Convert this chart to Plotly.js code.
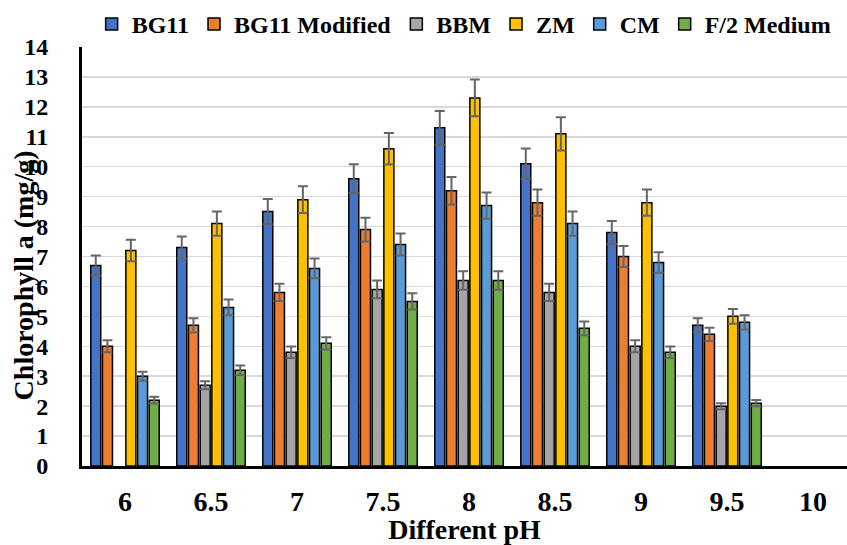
<!DOCTYPE html>
<html>
<head>
<meta charset="utf-8">
<script src="https://cdn.plot.ly/plotly-3.0.1.min.js"></script>
<style>html,body{margin:0;padding:0;background:#fff;}#chart{width:847px;height:545px;}</style>
</head>
<body>
<div id="chart"></div>
<script>
const categories = ["6", "6.5", "7", "7.5", "8", "8.5", "9", "9.5", "10"];
const seriesNames = ["BG11", "BG11 Modified", "BBM", "ZM", "CM", "F/2 Medium"];
const bg11 = [6.7, 7.3, 8.5, 9.6, 11.3, 10.1, 7.8, 4.7, null];
const bg11Modified = [4.0, 4.7, 5.8, 7.9, 9.2, 8.8, 7.0, 4.4, null];
const bbm = [null, 2.7, 3.8, 5.9, 6.2, 5.8, 4.0, 2.0, null];
const zm = [7.2, 8.1, 8.9, 10.6, 12.3, 11.1, 8.8, 5.0, null];
const cm = [3.0, 5.3, 6.6, 7.4, 8.7, 8.1, 6.8, 4.8, null];
const f2Medium = [2.2, 3.2, 4.1, 5.5, 6.2, 4.6, 3.8, 2.1, null];
const errorPercent = 5;
const yTicks = [0,1,2,3,4,5,6,7,8,9,10,11,12,13,14];
const xTitle = "Different pH";
const yTitle = "Chlorophyll a (mg/g)";
const colors = ["#4472C4", "#ED7D31", "#A5A5A5", "#FFC000", "#5B9BD5", "#70AD47"];

const allSeries = [bg11, bg11Modified, bbm, zm, cm, f2Medium];
const font = "'Liberation Serif', 'Times New Roman', serif";

const traces = allSeries.map((vals, i) => ({
  type: 'bar',
  name: seriesNames[i],
  x: categories,
  y: vals,
  marker: {color: colors[i], line: {color: '#000', width: 1.5}},
  error_y: {type: 'percent', value: errorPercent, visible: true, color: '#666', thickness: 2, width: 5}
}));

const layout = {
  width: 847, height: 545,
  margin: {l: 82, r: 0, t: 45, b: 79},
  paper_bgcolor: '#fff', plot_bgcolor: '#fff',
  barmode: 'group', bargap: 0.184, bargroupgap: 0.145,
  font: {family: font, color: '#000'},
  showlegend: true,
  legend: {orientation: 'h', xref: 'container', x: 0.548, xanchor: 'center',
    yref: 'container', y: 1 - 2 / 545, yanchor: 'top',
    font: {family: font, size: 24, weight: 'bold', color: '#000'},
    itemwidth: 30, tracegroupgap: 0, bgcolor: 'rgba(0,0,0,0)'},
  xaxis: {
    type: 'category', range: [-0.5, 8.395], fixedrange: true,
    showline: true, linecolor: '#000', linewidth: 3,
    showgrid: false, ticks: '', zeroline: false, ticklabelstandoff: 8,
    tickfont: {family: font, size: 28, weight: 'bold', color: '#000'},
    title: {text: xTitle, font: {family: font, size: 28, weight: 'bold', color: '#000'}, standoff: 1}
  },
  yaxis: {
    range: [0, 14], tickvals: yTicks, ticktext: yTicks.map(String), fixedrange: true,
    showline: true, linecolor: '#000', linewidth: 3,
    showgrid: true, gridcolor: '#d9d9d9', gridwidth: 1.5,
    ticks: '', zeroline: false, ticklabelstandoff: 26,
    tickfont: {family: font, size: 24, weight: 'bold', color: '#000'}
  },
  annotations: [{
    text: yTitle, textangle: -90, xref: 'paper', yref: 'paper',
    x: (23.5 - 82) / 765, y: (466 - 275) / 421, xanchor: 'center', yanchor: 'middle', showarrow: false,
    font: {family: font, size: 28, weight: 'bold', color: '#000'}
  }]
};

Plotly.newPlot('chart', traces, layout, {displayModeBar: false, staticPlot: true});
</script>
</body>
</html>
